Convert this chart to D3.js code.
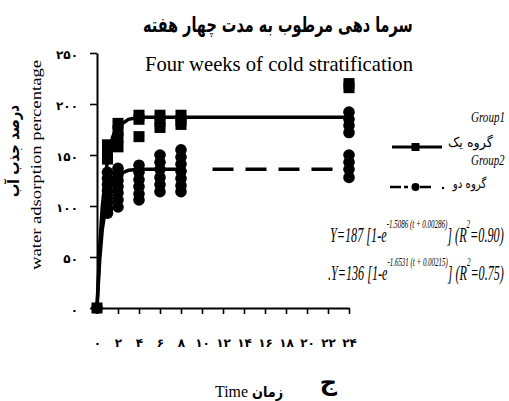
<!DOCTYPE html>
<html><head><meta charset="utf-8">
<script src="https://cdn.jsdelivr.net/npm/d3@7/dist/d3.min.js"></script>
<style>body{margin:0;background:#fff} svg{display:block}</style>
</head><body>
<svg id="c" width="509" height="401"></svg>
<script>
// ---------- data ----------
const sampleTimes = [0, 1, 2, 4, 6, 8, 24];
const group1Values = [[0],[160,153,146],[181,174,167,158],[189,185,168],[189,183,177],[189,184,180],[220,216]];
const group2Values = [[0],[133,127,121,115,109,103,97,93],[137,131,125,119,113,106,99],[140,133,126,119,112,106],[150,143,136,128,121,114],[155,148,141,134,127,120,114],[192,185,179,172,150,143,136,128]];
const fitTimes = [0, 0.25, 0.5, 1, 1.5, 2, 3, 4, 8, 11, 24];
const fit1 = [0, 59, 99, 146, 168, 178, 185, 187, 187, 187, 187];
const fit2 = [0, 46, 77, 110, 125, 131, 135, 136, 136, 136, 136];
const xTickValues = [0,2,4,6,8,10,12,14,16,18,20,22,24];
const xTickLabels = ["۰","۲","۴","۶","۸","۱۰","۱۲","۱۴","۱۶","۱۸","۲۰","۲۲","۲۴"];
const yTickValues = [0,50,100,150,200,250];
const yTickLabels = ["۰","۵۰","۱۰۰","۱۵۰","۲۰۰","۲۵۰"];
const seriesNames = ["Group1","Group2"];
const seriesNamesFa = ["گروه یک","گروه دو"];
const equations = [
  {pre:"Y=187 [1-e", exp:"-1.5086 (t + 0.00286)", r2:"0.90"},
  {pre:".Y=136 [1-e", exp:"-1.6531 (t + 0.00215)", r2:"0.75"}
];

const svg = d3.select("#c");
const x = d3.scaleLinear().domain([0,24]).range([97,349]);
const y = d3.scaleLinear().domain([0,250]).range([308,53]);
const FA = "'DejaVu Sans', sans-serif";
const SERIF = "'Liberation Serif', 'Times New Roman', serif";

function txt(s, px, py, o) {
  const t = svg.append("text").attr("x", px).attr("y", py).text(s)
    .attr("font-family", o.family || SERIF)
    .attr("font-size", o.size || 14)
    .attr("font-weight", o.weight || "normal")
    .attr("font-style", o.style || "normal")
    .attr("text-anchor", o.anchor || "start")
    .attr("fill", "#000");
  if (o.len) t.attr("textLength", o.len).attr("lengthAdjust", "spacingAndGlyphs");
  if (o.rotate) t.attr("transform", `rotate(${o.rotate},${px},${py})`);
  return t;
}
// text squeezed horizontally (by transform) to span [x0, x0+width]
function squeezed(s, x0, base, width, o) {
  const g = svg.append("g");
  const t = g.append("text").attr("x", 0).attr("y", base).text(s)
    .attr("font-family", o.family || SERIF).attr("font-size", o.size || 14)
    .attr("font-weight", o.weight || "normal").attr("font-style", o.style || "normal").attr("fill", "#000");
  const b = t.node().getBBox();
  g.attr("transform", `translate(${x0},0) scale(${width / b.width},1) translate(${-b.x},0)`);
  return t;
}

// ---------- axes ----------
const yAxis = d3.axisLeft(y).tickValues(yTickValues).tickFormat((d,i)=>yTickLabels[i])
  .tickSize(7).tickSizeOuter(0).tickPadding(12);
const xAxis = d3.axisBottom(x).tickValues(xTickValues).tickFormat((d,i)=>xTickLabels[i])
  .tickSize(6).tickSizeOuter(0).tickPadding(24);
const gy = svg.append("g").attr("transform", `translate(${x(0)},0)`).call(yAxis);
const gx = svg.append("g").attr("transform", `translate(0,${y(0)})`).call(xAxis);
[gx, gy].forEach(g => {
  g.select(".domain").attr("stroke", "#000").attr("stroke-width", 2);
  g.selectAll(".tick line").attr("stroke", "#000").attr("stroke-width", 1.6);
  g.selectAll("text").attr("font-family", FA).attr("font-size", 12).attr("font-weight", "bold").attr("fill", "#000");
});
gy.selectAll("text").attr("dy", "0.45em");

// ---------- fitted lines ----------
const line = d3.line().x(d => x(d[0])).y(d => y(d[1]));
const pts1 = fitTimes.map((t,i)=>[t, fit1[i]]);
const pts2 = fitTimes.map((t,i)=>[t, fit2[i]]);
svg.append("path").attr("d", line(pts1)).attr("fill","none").attr("stroke","#000").attr("stroke-width",3.5);
svg.append("path").attr("d", line(pts2.filter(p=>p[0]<=8))).attr("fill","none").attr("stroke","#000").attr("stroke-width",3.5);
svg.append("path").attr("d", line(pts2.filter(p=>p[0]>=11))).attr("fill","none").attr("stroke","#000")
  .attr("stroke-width",3.5).attr("stroke-dasharray","21,12");

// ---------- markers ----------
const pts2m = [], pts1m = [];
sampleTimes.forEach((t,i)=>{ group2Values[i].forEach(v=>pts2m.push([t,v])); group1Values[i].forEach(v=>pts1m.push([t,v])); });
svg.append("g").selectAll("circle").data(pts2m).join("circle")
  .attr("cx", d=>x(d[0])).attr("cy", d=>y(d[1])).attr("r", 5.8).attr("fill","#000");
const sq = 11;
svg.append("g").selectAll("rect").data(pts1m).join("rect")
  .attr("x", d=>x(d[0])-sq/2).attr("y", d=>y(d[1])-sq/2).attr("width", sq).attr("height", sq).attr("fill","#000");

// ---------- legend ----------
svg.append("line").attr("x1",392).attr("x2",442).attr("y1",147).attr("y2",147).attr("stroke","#000").attr("stroke-width",3);
svg.append("rect").attr("x",411.5).attr("y",143).attr("width",8).attr("height",8).attr("fill","#000");
svg.append("line").attr("x1",390).attr("x2",431).attr("y1",187).attr("y2",187).attr("stroke","#000").attr("stroke-width",2.5)
  .attr("stroke-dasharray","11,3,4,12,11,0");
svg.append("circle").attr("cx",415.5).attr("cy",187).attr("r",4).attr("fill","#000");
svg.append("circle").attr("cx",443).attr("cy",188).attr("r",1.2).attr("fill","#000");
squeezed(seriesNames[0], 471, 122, 34, {style:"italic", size:15});
squeezed(seriesNames[1], 471, 165, 34, {style:"italic", size:15});
squeezed(seriesNamesFa[0], 448, 147, 45, {family:FA, size:14});
squeezed(seriesNamesFa[1], 452, 188, 35, {family:FA, size:13});

// ---------- equations (one text each, squeezed horizontally) ----------
function equation(eq, x0, base, width) {
  const g = svg.append("g");
  const t = g.append("text").attr("x", 0).attr("y", base)
    .attr("font-family", SERIF).attr("font-style", "italic").attr("font-size", 21).attr("fill", "#000");
  t.append("tspan").text(eq.pre);
  t.append("tspan").attr("font-size", 12).attr("dy", -14).text(eq.exp);
  t.append("tspan").attr("dy", 14).text("] (R");
  t.append("tspan").attr("font-size", 12).attr("dy", -14).text("2");
  t.append("tspan").attr("dy", 14).text("=" + eq.r2 + ")");
  const b = t.node().getBBox();
  g.attr("transform", `translate(${x0},0) scale(${width / b.width},1) translate(${-b.x},0)`);
}
equation(equations[0], 330, 242, 174);
equation(equations[1], 328, 280, 176);

// ---------- titles ----------
squeezed("سرما دهی مرطوب به مدت چهار هفته", 143, 32, 270, {family:FA, size:21, weight:"bold"});
txt("Four weeks of cold stratification", 279, 71, {size:21, anchor:"middle", len:268});
txt("درصد جذب آب", 19, 151, {family:FA, size:16, weight:"bold", anchor:"middle", len:92, rotate:-90});
txt("water adsorption percentage", 41, 165, {size:14, anchor:"middle", len:210, rotate:-90});
txt("Time", 215, 397, {size:17, len:33});
txt("زمان", 267.5, 397, {family:FA, size:15, weight:"bold", anchor:"middle", len:31});
txt("ج", 328.5, 390, {family:FA, size:24, weight:"bold", anchor:"middle"});
</script>
</body></html>
